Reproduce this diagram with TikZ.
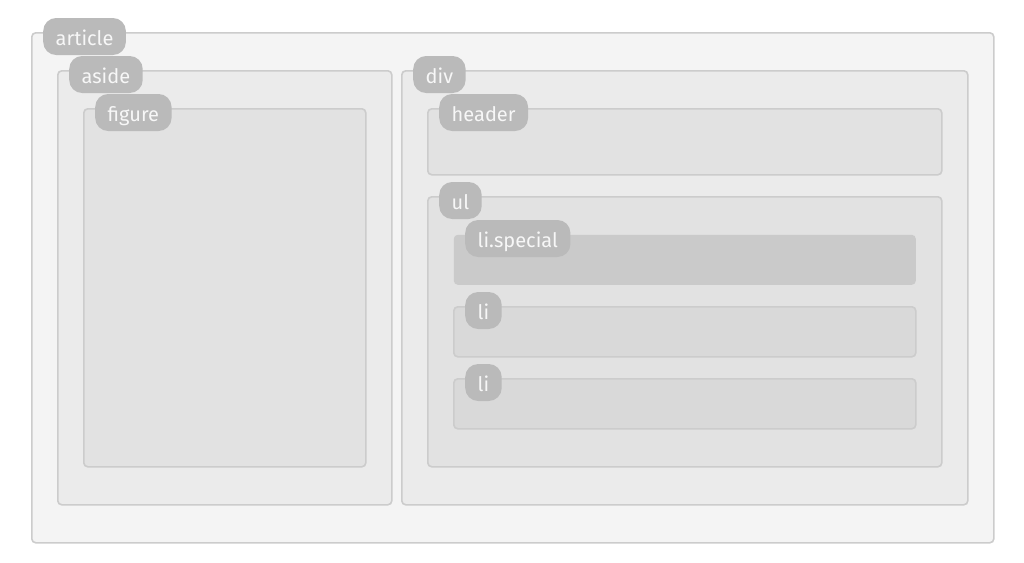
\documentclass[tikz,border=0pt]{standalone}
\usepackage{fontspec}
\setmainfont{Fira Sans}
\definecolor{boxline}{HTML}{CCCCCC}
\definecolor{tagfill}{HTML}{BABABA}
\definecolor{tagtext}{HTML}{F7F7F7}

\begin{document}
\begin{tikzpicture}[x=1pt,y=-1pt]
    \tikzstyle{box}=[draw=boxline, line width=1.6pt, rounded corners=4pt, anchor=north west, inner sep=0pt]
    \tikzstyle{lv0}=[box, fill={rgb,255:red,244;green,244;blue,244}]
    \tikzstyle{lv1}=[box, fill={rgb,255:red,235;green,235;blue,235}]
    \tikzstyle{lv2}=[box, fill={rgb,255:red,226;green,226;blue,226}]
    \tikzstyle{lv3}=[box, fill={rgb,255:red,217;green,217;blue,217}]
    \tikzstyle{hot}=[box, draw=none, fill={rgb,255:red,202;green,202;blue,202}]
    \tikzstyle{tag}=[fill=tagfill, text=tagtext, rounded corners=13pt, anchor=west,
        minimum height=37pt, inner xsep=12.5pt, text height=19pt, text depth=2pt,
        font=\fontsize{20}{20}\selectfont]

    \useasboundingbox (0,0) rectangle (1024,562);

    % Draw the boxes (name / left / top / width / height / style)
    \foreach \name/\x/\y/\w/\h/\s in {article/31/32/962/510/lv0,
            aside/57/70/334/434/lv1, div/401/70/566/434/lv1,
            figure/83/108/282/358/lv2, header/427/108/514/66/lv2,
            ul/427/196/514/270/lv2, special/453/234/462/50/hot,
            li-1/453/306/462/50/lv3, li-2/453/378/462/50/lv3}
        \node[\s, minimum width=\w pt, minimum height=\h pt] (\name) at (\x,\y) {};

    % Put a tag on the top left corner of every box
    \foreach \name/\text in {article/article, aside/aside, div/div,
            figure/figure, header/header, ul/ul, special/li.special,
            li-1/li, li-2/li}
        \node[tag] (\name-tag) at ([xshift=12pt, yshift=-4.5pt]\name.north west) {\text};
\end{tikzpicture}
\end{document}
